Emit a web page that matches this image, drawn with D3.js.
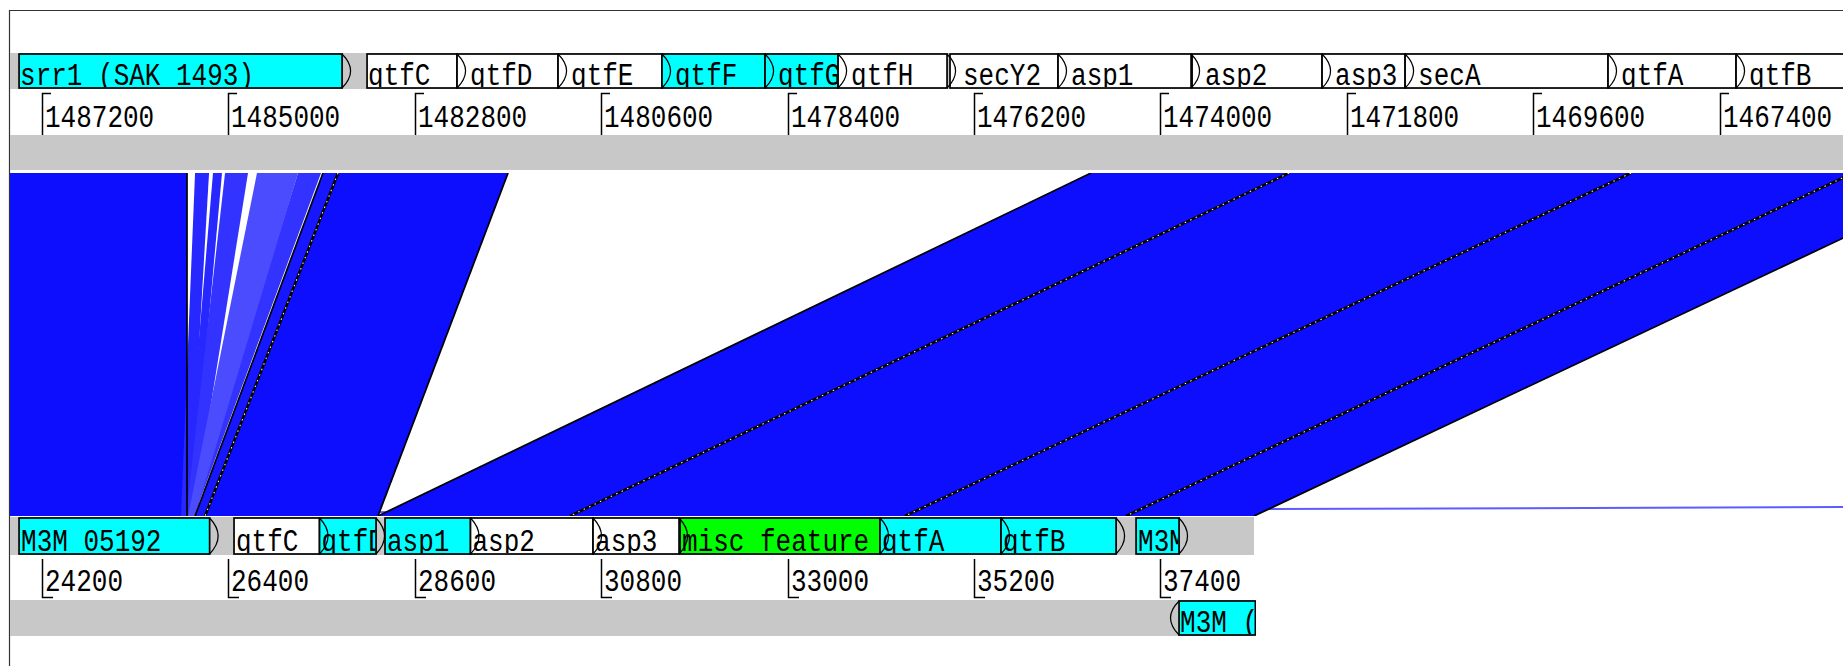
<!DOCTYPE html>
<html>
<head>
<meta charset="utf-8">
<script src="https://cdn.jsdelivr.net/npm/d3@7"></script>
<style>
  body { margin: 0; background: #fff; }
  svg { display: block; }
  text { font-family: "Liberation Mono", "DejaVu Sans Mono", monospace; font-size: 26px; fill: #000; }
</style>
</head>
<body>
<div id="chart"></div>
<script>
// ---- data (bp positions) ----
// visible window of each sequence
var viewSpan = 21751;
var topViewStart = 1487696;      // top sequence is shown reversed
var bottomViewStart = 23704;
var bottomSeqEnd = 38504;

var topTicks = [1487200, 1485000, 1482800, 1480600, 1478400, 1476200, 1474000, 1471800, 1469600, 1467400];
var bottomTicks = [24200, 26400, 28600, 30800, 33000, 35200, 37400];

// [label, left bp, right bp, Artemis colour code]
var topGenes = [
  ["srr1 (SAK 1493)", 1487471, 1483659, 5],
  ["qtfC", 1483364, 1482302, 0],
  ["qtfD", 1482302, 1481110, 0],
  ["qtfE", 1481110, 1479883, 0],
  ["qtfF", 1479883, 1478667, 5],
  ["qtfG", 1478667, 1477805, 5],
  ["qtfH", 1477805, 1476519, 0],
  ["secY2", 1476484, 1475209, 0],
  ["asp1", 1475209, 1473639, 0],
  ["asp2", 1473627, 1472093, 0],
  ["asp3", 1472093, 1471113, 0],
  ["secA", 1471113, 1468718, 0],
  ["qtfA", 1468718, 1467207, 0],
  ["qtfB", 1467207, 1465744, 0]
];

var bottomGenes = [
  ["M3M 05192", 23929, 26178, 5],
  ["qtfC", 26466, 27475, 0],
  ["qtfD", 27475, 28142, 5],
  ["asp1", 28248, 29257, 5],
  ["asp2", 29257, 30703, 0],
  ["asp3", 30703, 31718, 0],
  ["misc feature", 31730, 34090, 3],
  ["qtfA", 34090, 35518, 5],
  ["qtfB", 35518, 36876, 5],
  ["M3M", 37112, 37619, 5]
];

// complement strand features of the bottom sequence
var bottomRevGenes = [
  ["M3M (", 37619, 38520, 5]
];

// [top left bp, top right bp, bottom left bp, bottom right bp, % identity]
var matches = [
  [341769, 335018, 11878, 18629, 80],
  [1488000, 1485489, 23400, 25911, 99],
  [1485394, 1485229, 25840, 25935, 93],
  [1485182, 1485076, 25876, 25959, 93],
  [1485040, 1484769, 25900, 25982, 90],
  [1484179, 1483907, 25959, 25994, 90],
  [1484663, 1484179, 25923, 26006, 84],
  [1483884, 1483707, 26006, 26124, 97],
  [1483707, 1481700, 26124, 28165, 99],
  [1474820, 1472483, 28165, 30431, 99],
  [1472483, 1468447, 30431, 34385, 99],
  [1468447, 1465827, 34385, 36993, 99],
  [1465827, 1464316, 36993, 38504, 99]
];

// ---- layout ----
var W = 1843, H = 666;
var frameX = 9, frameY = 10;
var topBand1 = [53, 89], topTickRow = [89, 135], topBand2 = [135, 170];
var cmpY = [173, 516];
var botBand1 = [517, 555], botTickRow = [555, 600], botBand2 = [600, 636];

var colourMap = d3.scaleOrdinal().domain([0, 3, 5]).range(["#ffffff", "#00ff00", "#00ffff"]);
var identColour = d3.scaleLinear().domain([80, 100]).range(["#5c5cff", "#0a0aff"]).clamp(true);

var topX = d3.scaleLinear().domain([topViewStart, topViewStart - viewSpan]).range([0, W]);
var botX = d3.scaleLinear().domain([bottomViewStart, bottomViewStart + viewSpan]).range([0, W]);

var svg = d3.select("#chart").append("svg")
    .attr("width", W)
    .attr("height", H);

var defs = svg.append("defs");

// frame
svg.append("path")
    .attr("d", "M" + (frameX + 0.5) + "," + H + "V" + (frameY + 0.5) + "H" + W)
    .attr("fill", "none")
    .attr("stroke", "#333")
    .attr("stroke-width", 1.2);

// gray feature bands
var botEndX = botX(bottomSeqEnd);
[[topBand1, W], [topBand2, W], [botBand1, botEndX], [botBand2, botEndX]].forEach(function(b) {
    svg.append("rect")
        .attr("x", frameX + 1)
        .attr("y", b[0][0])
        .attr("width", b[1] - frameX - 1)
        .attr("height", b[0][1] - b[0][0])
        .attr("fill", "#c8c8c8");
});

// ---- comparison panel ----
defs.append("clipPath").attr("id", "cmpClip")
  .append("rect")
    .attr("x", frameX + 1).attr("y", cmpY[0])
    .attr("width", W - frameX - 1).attr("height", cmpY[1] - cmpY[0]);

var cmp = svg.append("g").attr("clip-path", "url(#cmpClip)");

cmp.selectAll("path.match")
    .data(matches)
    .join("path")
    .attr("class", "match")
    .attr("d", function(m) {
        return "M" + topX(m[0]) + "," + cmpY[0] +
               "L" + topX(m[1]) + "," + cmpY[0] +
               "L" + botX(m[3]) + "," + cmpY[1] +
               "L" + botX(m[2]) + "," + cmpY[1] + "Z";
    })
    .attr("fill", function(m) { return identColour(m[4]); });

// outlines of the strong matches; shared edges get the dotted look
var edges = [];
matches.forEach(function(m, i) {
    if (m[4] < 95) return;
    var prev = matches[i - 1];
    var sharedLeft = prev && prev[4] >= 95 && prev[1] === m[0] && prev[3] === m[2];
    edges.push({t: m[0], b: m[2], dotted: sharedLeft});
    var next = matches[i + 1];
    var sharedRight = next && next[4] >= 95 && next[0] === m[1] && next[2] === m[3];
    if (!sharedRight) edges.push({t: m[1], b: m[3], dotted: false});
});

cmp.selectAll("line.edge")
    .data(edges)
    .join("line")
    .attr("class", "edge")
    .attr("x1", function(e) { return topX(e.t); })
    .attr("y1", cmpY[0])
    .attr("x2", function(e) { return botX(e.b); })
    .attr("y2", cmpY[1])
    .attr("stroke", "#000")
    .attr("stroke-width", function(e) { return e.dotted ? 2.6 : 1.7; });

cmp.selectAll("line.dots")
    .data(edges.filter(function(e) { return e.dotted; }))
    .join("line")
    .attr("class", "dots")
    .attr("x1", function(e) { return topX(e.t); })
    .attr("y1", cmpY[0])
    .attr("x2", function(e) { return botX(e.b); })
    .attr("y2", cmpY[1])
    .attr("stroke", "#ffff70")
    .attr("stroke-width", 1.1)
    .attr("stroke-dasharray", "1.5,4.5");

// ---- feature boxes: boxes first, then arrow heads, then labels ----
function drawGenes(parent, genes, xs, band, strand, idp, labelRule) {
    var y0 = band[0] + 1, y1 = band[1] - 1, mid = (y0 + y1) / 2;
    var g = parent.append("g");

    var boxes = genes.map(function(d, i) {
        var prev = genes[i - 1];
        return {
            name: d[0],
            x1: xs(d[1]),
            x2: xs(d[2]),
            fill: colourMap(d[3]),
            abut: prev ? Math.abs(xs(d[1]) - xs(prev[2])) < 5 : false,
            id: idp + i
        };
    });

    g.selectAll("rect.box")
        .data(boxes)
        .join("rect")
        .attr("class", "box")
        .attr("x", function(b) { return b.x1; })
        .attr("y", y0)
        .attr("width", function(b) { return b.x2 - b.x1; })
        .attr("height", y1 - y0)
        .attr("fill", function(b) { return b.fill; })
        .attr("stroke", "#000")
        .attr("stroke-width", 1.7);

    g.selectAll("path.arrow")
        .data(boxes)
        .join("path")
        .attr("class", "arrow")
        .attr("d", function(b) {
            var ax = strand > 0 ? b.x2 : b.x1, dir = strand > 0 ? 1 : -1;
            return "M" + ax + "," + y0 + "Q" + (ax + dir * 17) + "," + mid + " " + ax + "," + y1;
        })
        .attr("fill", "none")
        .attr("stroke", "#000")
        .attr("stroke-width", 1.2);

    boxes.forEach(function(b) {
        defs.append("clipPath").attr("id", b.id)
          .append("rect")
            .attr("x", b.x1 + 1).attr("y", y0 + 1)
            .attr("width", Math.max(0, b.x2 - b.x1 - 2)).attr("height", y1 - y0 - 2);
        g.append("g").attr("clip-path", "url(#" + b.id + ")")
          .append("text")
            .attr("transform", "translate(" + (b.x1 + labelRule(b.abut)) + "," + (y1 - 3) + ") scale(1,1.2)")
            .text(b.name);
    });
}

drawGenes(svg, topGenes, topX, topBand1, 1, "tg", function(abut) { return abut ? 13 : 1; });
drawGenes(svg, bottomGenes, botX, botBand1, 1, "bg", function() { return 2; });

// complement strand band of the bottom sequence is cut at the sequence end
defs.append("clipPath").attr("id", "botEnd")
  .append("rect").attr("x", 0).attr("y", 0).attr("width", botEndX + 2).attr("height", H);
var revG = svg.append("g").attr("clip-path", "url(#botEnd)");
drawGenes(revG, bottomRevGenes, botX, botBand2, -1, "br", function() { return 1; });

// ---- ticks ----
var topTickG = svg.append("g").selectAll("g")
    .data(topTicks)
    .join("g")
    .attr("transform", function(d) { return "translate(" + Math.round(topX(d)) + ",0)"; });

topTickG.append("path")
    .attr("d", "M0.5," + topTickRow[1] + "V" + (topTickRow[0] + 4.5) + "H9")
    .attr("fill", "none")
    .attr("stroke", "#000")
    .attr("stroke-width", 1.5);

topTickG.append("text")
    .attr("transform", "translate(3," + (topTickRow[1] - 8) + ") scale(1,1.2)")
    .text(function(d) { return d; });

var botTickG = svg.append("g").selectAll("g")
    .data(bottomTicks)
    .join("g")
    .attr("transform", function(d) { return "translate(" + Math.round(botX(d)) + ",0)"; });

botTickG.append("path")
    .attr("d", "M0.5," + (botTickRow[0] + 4) + "V" + (botTickRow[1] - 2.5) + "H11")
    .attr("fill", "none")
    .attr("stroke", "#000")
    .attr("stroke-width", 1.5);

botTickG.append("text")
    .attr("transform", "translate(3," + (botTickRow[1] - 9) + ") scale(1,1.2)")
    .text(function(d) { return d; });
</script>
</body>
</html>
